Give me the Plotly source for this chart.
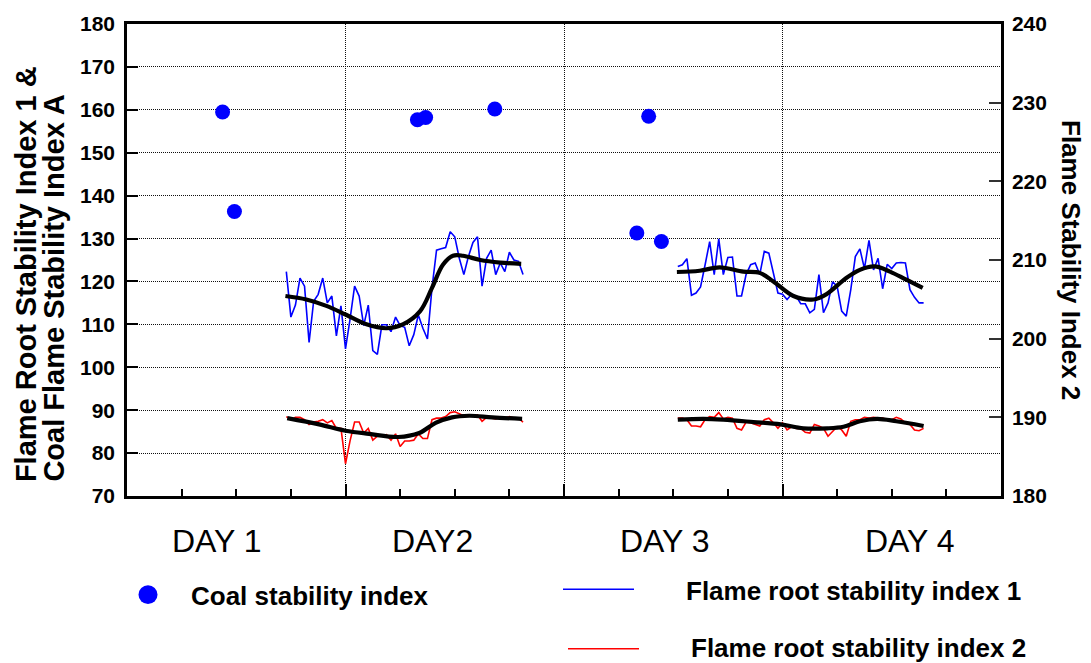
import plotly.graph_objects as go

# ---------------- data (hours on x axis, 4 days = 96 h) ----------------
coal_hours = [10.5, 11.8, 31.9, 32.8, 40.4, 56.0, 57.3, 58.7]
coal_values = [159.5, 136.3, 157.7, 158.2, 160.2, 131.3, 158.5, 129.3]

step_h = 0.5
flame1_a_start = 17.5
flame1_a = [122.3, 111.7, 114.5, 120.8, 118.9, 105.8, 115.4, 117.0, 120.8, 115.0,
            116.6, 107.3, 114.3, 104.3, 111.2, 118.9, 116.6, 109.7, 114.5, 103.9,
            103.0, 109.9, 109.9, 108.3, 111.7, 109.7, 109.3, 105.0, 107.6, 112.2,
            109.1, 106.6, 118.5, 127.3, 127.6, 127.9, 131.6, 130.4, 125.4, 121.6,
            125.8, 129.1, 130.4, 118.9, 125.4, 127.3, 121.6, 124.3, 122.3, 126.8,
            125.0, 124.7, 121.6]
flame1_b_start = 60.5
flame1_b = [123.5, 123.9, 125.3, 116.8, 117.3, 118.7, 123.9, 129.3, 121.6, 129.9,
            121.6, 125.6, 125.7, 116.6, 116.6, 121.6, 123.9, 124.3, 121.6, 127.0,
            126.6, 121.6, 117.3, 117.0, 115.8, 117.0, 116.6, 114.8, 114.8, 112.7,
            113.5, 121.6, 112.7, 115.0, 119.9, 118.9, 113.1, 111.9, 118.1, 125.8,
            127.6, 123.0, 129.6, 122.7, 125.4, 118.3, 124.0, 123.0, 124.3, 124.4,
            124.3, 118.1, 116.3, 115.0, 115.0]

flame2_a_start = 17.5
flame2_a = [190.1, 189.7, 190.0, 190.0, 189.7, 189.1, 189.4, 189.5, 189.7, 189.3,
            189.6, 188.6, 188.6, 184.1, 187.0, 189.4, 189.4, 188.0, 188.6, 187.1,
            187.6, 187.7, 187.8, 187.1, 187.9, 186.3, 187.0, 187.0, 187.1, 187.9,
            187.3, 187.3, 189.7, 189.9, 189.9, 190.1, 190.6, 190.7, 190.5, 190.2,
            190.2, 190.2, 190.3, 189.5, 190.0, 189.9, 189.8, 190.0, 189.9, 190.1,
            189.9, 189.9, 189.4]
flame2_b_start = 60.5
flame2_b = [189.9, 189.9, 189.7, 188.9, 188.9, 188.8, 189.7, 190.1, 190.0, 190.6,
            189.8, 190.0, 189.9, 188.6, 188.4, 189.4, 189.3, 189.1, 188.9, 189.7,
            189.9, 189.3, 188.6, 189.3, 188.4, 188.8, 188.6, 188.6, 188.1, 188.0,
            189.1, 188.9, 188.6, 187.6, 188.2, 188.8, 188.4, 187.6, 189.5, 189.7,
            189.7, 190.0, 189.9, 190.0, 189.9, 189.9, 189.7, 189.7, 190.0, 189.8,
            189.3, 189.1, 188.4, 188.3, 188.6]

trend1_a_hours = [17.4, 19.7, 21.9, 24.0, 26.3, 28.5, 30.3, 32.2, 33.5, 34.7, 35.8, 36.9, 38.8, 41.0, 43.3]
trend1_a = [116.6, 115.8, 114.3, 112.3, 110.0, 109.1, 110.0, 113.1, 118.5, 123.9, 126.0, 126.0, 125.0, 124.4, 124.1]
trend1_b_hours = [60.4, 62.9, 65.1, 67.7, 69.5, 71.0, 73.2, 75.4, 76.8, 79.0, 80.5, 82.1, 83.8, 85.6, 87.4]
trend1_b = [122.2, 122.5, 123.3, 122.3, 122.0, 120.0, 116.6, 115.8, 117.0, 120.8, 122.7, 123.5, 122.3, 120.4, 118.5]

trend2_a_hours = [17.6, 21.1, 24.0, 26.6, 29.8, 32.1, 33.9, 35.7, 37.6, 40.1, 43.4]
trend2_a = [189.9, 189.1, 188.3, 187.9, 187.5, 188.0, 189.3, 190.0, 190.2, 190.0, 189.8]
trend2_b_hours = [60.5, 63.3, 65.5, 68.8, 71.8, 74.3, 76.9, 78.7, 80.5, 82.4, 84.5, 87.5]
trend2_b = [189.7, 189.8, 189.7, 189.4, 189.1, 188.6, 188.6, 188.8, 189.5, 189.8, 189.5, 188.9]

left_ticks = [70, 80, 90, 100, 110, 120, 130, 140, 150, 160, 170, 180]
right_ticks = [180, 190, 200, 210, 220, 230, 240]

day_labels = ["DAY 1", "DAY2", "DAY 3", "DAY 4"]
day_label_px = [217, 432, 665, 910]

left_title = ["Flame Root Stability Index 1 &", "Coal Flame Stability Index A"]
right_title = "Flame Stability Index 2"
legend_texts = ["Coal stability index", "Flame root stability index 1", "Flame root stability index 2"]

# ---------------- layout geometry (pixels) ----------------
W, H = 1091, 663
L, R, T, B = 127, 1001, 20, 496
FONT = "Liberation Sans, Arial, sans-serif"
BLUE = "#0000ff"
RED = "#ff0000"


def px(x):
    return (x - L) / (R - L)


def py(y):
    return (B - y) / (B - T)


def hours(start, vals):
    return [start + step_h * i for i in range(len(vals))]


fig = go.Figure()

fig.add_trace(go.Scatter(x=hours(flame1_a_start, flame1_a), y=flame1_a, mode="lines",
                         line=dict(color=BLUE, width=1.6), showlegend=False))
fig.add_trace(go.Scatter(x=hours(flame1_b_start, flame1_b), y=flame1_b, mode="lines",
                         line=dict(color=BLUE, width=1.6), showlegend=False))
fig.add_trace(go.Scatter(x=hours(flame2_a_start, flame2_a), y=flame2_a, mode="lines", yaxis="y2",
                         line=dict(color=RED, width=1.6), showlegend=False))
fig.add_trace(go.Scatter(x=hours(flame2_b_start, flame2_b), y=flame2_b, mode="lines", yaxis="y2",
                         line=dict(color=RED, width=1.6), showlegend=False))
for hx, vy, ax in [(trend1_a_hours, trend1_a, "y"), (trend1_b_hours, trend1_b, "y"),
                   (trend2_a_hours, trend2_a, "y2"), (trend2_b_hours, trend2_b, "y2")]:
    fig.add_trace(go.Scatter(x=hx, y=vy, mode="lines", yaxis=ax,
                             line=dict(color="black", width=4.2, shape="spline", smoothing=1.0),
                             showlegend=False))
fig.add_trace(go.Scatter(x=coal_hours, y=coal_values, mode="markers",
                         marker=dict(color=BLUE, size=15), showlegend=False))

tickfont = dict(family=FONT, size=21, color="black")
grid = dict(showgrid=True, gridcolor="#111111", gridwidth=1, griddash="1px,1px", zeroline=False)

fig.update_layout(
    width=W, height=H,
    margin=dict(l=L, r=W - R, t=T, b=H - B, pad=0),
    paper_bgcolor="white", plot_bgcolor="white",
    showlegend=False,
    xaxis=dict(range=[0, 96], dtick=24, tick0=0, ticks="inside", ticklen=12, tickwidth=2,
               tickcolor="black", showticklabels=False,
               showline=True, linewidth=2.5, linecolor="black", mirror=True,
               minor=dict(dtick=6, tick0=0, ticks="inside", ticklen=7, tickwidth=2,
                          tickcolor="black", showgrid=False),
               **grid),
    yaxis=dict(range=[70, 180], tickmode="array", tickvals=left_ticks,
               ticktext=["<b>%d</b>" % v for v in left_ticks],
               ticks="inside", ticklen=11, tickwidth=2, ticklabelstandoff=5,
               tickcolor="black", tickfont=tickfont,
               showline=True, linewidth=2.5, linecolor="black", mirror=True,
               **grid),
    yaxis2=dict(range=[180, 240], overlaying="y", side="right", tickmode="array",
                tickvals=right_ticks, ticktext=["<b>%d</b>" % v for v in right_ticks],
                ticks="inside", ticklen=12, tickwidth=2, tickcolor="#333333", ticklabelstandoff=4,
                tickfont=tickfont, showgrid=False, zeroline=False,
                showline=True, linewidth=2.5, linecolor="black"),
)

ann = []
for lab, xp in zip(day_labels, day_label_px):
    ann.append(dict(text=lab, x=px(xp), y=py(541), xref="paper", yref="paper",
                    xanchor="center", yanchor="middle", showarrow=False,
                    font=dict(family=FONT, size=32, color="black")))
# left axis title (two rotated lines)
for txt, xc in zip(left_title, [26, 54]):
    ann.append(dict(text="<b>%s</b>" % txt, x=px(xc), y=py(484), xref="paper", yref="paper",
                    xanchor="center", yanchor="bottom", textangle=-90, showarrow=False,
                    font=dict(family=FONT, size=29, color="black")))
ann.append(dict(text="<b>%s</b>" % right_title, x=px(1071), y=py(258), xref="paper", yref="paper",
                xanchor="center", yanchor="middle", textangle=90, showarrow=False,
                font=dict(family=FONT, size=26, color="black")))
# legend texts
for txt, xl, yc in zip(legend_texts, [189, 684, 689], [597, 592, 649]):
    ann.append(dict(text="<b>%s</b>" % txt, x=px(xl), y=py(yc), xref="paper", yref="paper",
                    xanchor="left", yanchor="middle", showarrow=False,
                    font=dict(family=FONT, size=26, color="black")))
fig.update_layout(annotations=ann)

shapes = [
    dict(type="circle", xref="paper", yref="paper", x0=px(138.5), x1=px(157.5),
         y0=py(586), y1=py(605), fillcolor=BLUE, line=dict(color=BLUE, width=0)),
    dict(type="line", xref="paper", yref="paper", x0=px(563), x1=px(634),
         y0=py(590), y1=py(590), line=dict(color=BLUE, width=1.6)),
    dict(type="line", xref="paper", yref="paper", x0=px(568), x1=px(639),
         y0=py(650), y1=py(650), line=dict(color=RED, width=1.6)),
]
fig.update_layout(shapes=shapes)

fig.write_html("out.html")
